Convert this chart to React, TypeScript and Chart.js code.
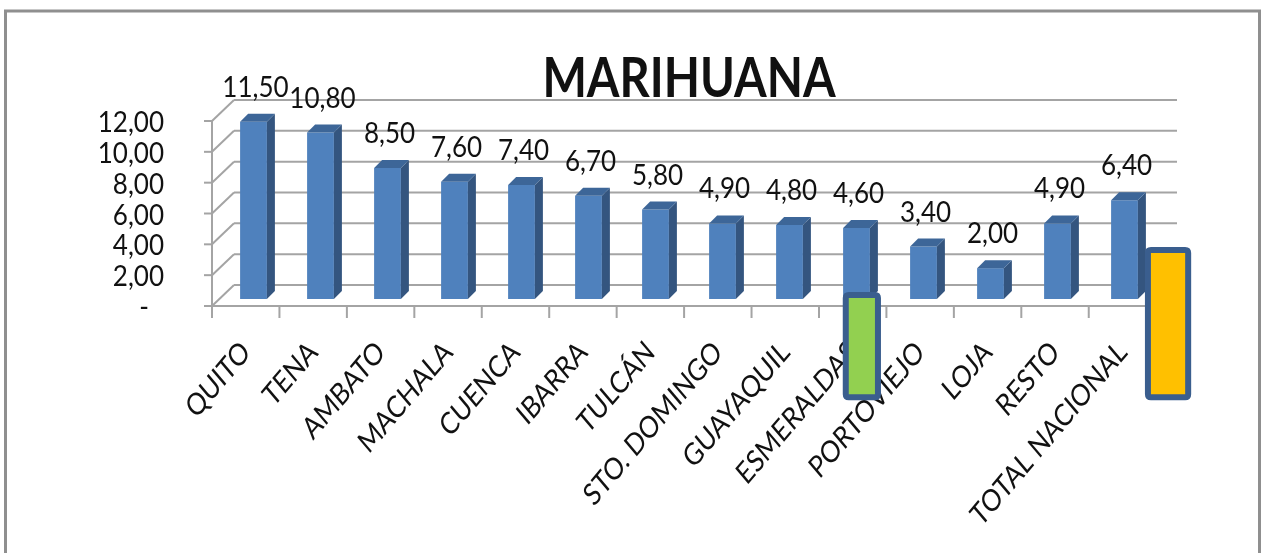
import React, { useEffect, useRef } from 'react';
import { Chart, registerables } from 'chart.js';

Chart.register(...registerables);

// ---------- data ----------
const categories = [
  'QUITO', 'TENA', 'AMBATO', 'MACHALA', 'CUENCA', 'IBARRA', 'TULCÁN',
  'STO. DOMINGO', 'GUAYAQUIL', 'ESMERALDAS', 'PORTOVIEJO', 'LOJA', 'RESTO', 'TOTAL NACIONAL',
];
const values = [11.5, 10.8, 8.5, 7.6, 7.4, 6.7, 5.8, 4.9, 4.8, 4.6, 3.4, 2.0, 4.9, 6.4];
const valueLabels = ['11,50', '10,80', '8,50', '7,60', '7,40', '6,70', '5,80', '4,90', '4,80', '4,60', '3,40', '2,00', '4,90', '6,40'];
const yTickValues = [0, 2, 4, 6, 8, 10, 12];
const yTickLabels = ['-', '2,00', '4,00', '6,00', '8,00', '10,00', '12,00'];
const chartTitle = 'MARIHUANA';

// highlight boxes (annotation overlays), expressed in scale units
const highlightCategories = [9, 13];
const highlightTopValues = [0.45, 3.38];
const highlightBottomValues = [-6.56, -6.56];

// ---------- styles / geometry ----------
const FONT = 'Lato, "Open Sans", sans-serif';
const FRONT = { dx: -8, dy: 7, sx: 1.0066 };
const BACK = { dx: 14, dy: -14 };
const BAR_DEPTH = 8;
const TEXT_SIZE = 28;
const TEXT_SX = 0.93;
const CAT_SIZE = 26;
const CAT_SX = 0.95;
const CAT_STRETCH_Y = 1.18;
const TITLE_SIZE = 55;
const TITLE_SX = 0.855;
const highlightStyle = [
  { offset: 0.08, widthFrac: 0.57, fill: '#92D050' },
  { offset: 0.65, widthFrac: 0.69, fill: '#FFC000' },
];

function line(ctx: CanvasRenderingContext2D, x1: number, y1: number, x2: number, y2: number) {
  ctx.beginPath();
  ctx.moveTo(x1, y1);
  ctx.lineTo(x2, y2);
  ctx.stroke();
}

function text(
  ctx: CanvasRenderingContext2D, s: string, x: number, y: number,
  align: CanvasTextAlign, baseline: CanvasTextBaseline, sx: number, angle = 0, sy = 1,
) {
  ctx.save();
  ctx.translate(x, y);
  if (sy !== 1) ctx.scale(1, sy);
  if (angle) ctx.rotate(angle);
  ctx.scale(sx, 1);
  ctx.textAlign = align;
  ctx.textBaseline = baseline;
  ctx.fillText(s, 0, 0);
  ctx.restore();
}

function roundRect(ctx: CanvasRenderingContext2D, x: number, y: number, w: number, h: number, r: number) {
  ctx.beginPath();
  ctx.moveTo(x + r, y);
  ctx.lineTo(x + w - r, y);
  ctx.quadraticCurveTo(x + w, y, x + w, y + r);
  ctx.lineTo(x + w, y + h - r);
  ctx.quadraticCurveTo(x + w, y + h, x + w - r, y + h);
  ctx.lineTo(x + r, y + h);
  ctx.quadraticCurveTo(x, y + h, x, y + h - r);
  ctx.lineTo(x, y + r);
  ctx.quadraticCurveTo(x, y, x + r, y);
  ctx.closePath();
}

// map a bar-plane x pixel to the front plane
function frontX(a: any, px: number) {
  return a.left + FRONT.dx + (px - a.left) * FRONT.sx;
}

const depthPlugin = {
  id: 'depth3d',
  beforeDatasetsDraw(chart: any) {
    const { ctx, chartArea: a, scales } = chart;
    const x = scales.x;
    const y = scales.y;
    ctx.save();
    // outer frame
    ctx.strokeStyle = '#8f8f8f';
    ctx.lineWidth = 3;
    ctx.strokeRect(5.5, 11, chart.width - 13, chart.height + 20);

    ctx.strokeStyle = '#a4a4a4';
    ctx.lineWidth = 2;
    const y0 = y.getPixelForValue(0);
    const yMax = y.getPixelForValue(yTickValues[yTickValues.length - 1]);
    const fl = frontX(a, a.left);
    const fr = frontX(a, a.right);
    for (const v of yTickValues) {
      const py = y.getPixelForValue(v);
      // back wall
      line(ctx, a.left + BACK.dx, py + BACK.dy, a.right + BACK.dx + 5, py + BACK.dy);
      // left wall
      line(ctx, fl, py + FRONT.dy, a.left + BACK.dx, py + BACK.dy);
      // front tick marks
      line(ctx, fl - 8, py + FRONT.dy, fl, py + FRONT.dy);
    }
    // front vertical axis
    line(ctx, fl, y0 + FRONT.dy, fl, yMax + FRONT.dy);
    // front horizontal axis
    line(ctx, fl, y0 + FRONT.dy, fr, y0 + FRONT.dy);
    // category ticks
    for (let i = 0; i <= categories.length; i++) {
      const px = frontX(a, x.getPixelForValue(i - 0.5));
      line(ctx, px, y0 + FRONT.dy, px, y0 + FRONT.dy + 12);
    }
    ctx.restore();
  },
  afterDatasetsDraw(chart: any) {
    const { ctx } = chart;
    const meta = chart.getDatasetMeta(0);
    ctx.save();
    meta.data.forEach((el: any) => {
      const p = el.getProps(['x', 'y', 'base', 'width'], true);
      const l = p.x - p.width / 2;
      const r = p.x + p.width / 2;
      const d = BAR_DEPTH;
      // side face
      ctx.fillStyle = '#34557f';
      ctx.beginPath();
      ctx.moveTo(r, p.y);
      ctx.lineTo(r + d, p.y - d);
      ctx.lineTo(r + d, p.base - d);
      ctx.lineTo(r, p.base);
      ctx.closePath();
      ctx.fill();
      // top face
      ctx.fillStyle = '#3d6698';
      ctx.beginPath();
      ctx.moveTo(l, p.y);
      ctx.lineTo(l + d, p.y - d);
      ctx.lineTo(r + d, p.y - d);
      ctx.lineTo(r, p.y);
      ctx.closePath();
      ctx.fill();
    });
    ctx.restore();
  },
  afterDraw(chart: any) {
    const { ctx, chartArea: a, scales } = chart;
    const x = scales.x;
    const y = scales.y;
    const meta = chart.getDatasetMeta(0);
    ctx.save();
    ctx.fillStyle = '#111';

    // title
    ctx.font = `bold ${TITLE_SIZE}px ${FONT}`;
    text(ctx, chartTitle, (a.left + a.right) / 2, a.top - 17, 'center', 'alphabetic', TITLE_SX);

    // value labels
    ctx.font = `${TEXT_SIZE}px ${FONT}`;
    meta.data.forEach((el: any, i: number) => {
      const p = el.getProps(['x', 'y'], true);
      text(ctx, valueLabels[i], p.x + 2, p.y - 25, 'center', 'alphabetic', TEXT_SX);
    });

    // y tick labels
    const fl = frontX(a, a.left);
    yTickValues.forEach((v, i) => {
      const py = y.getPixelForValue(v) + FRONT.dy;
      const lbl = yTickLabels[i];
      const rx = fl - 48 - (lbl === '-' ? 15 : 0);
      text(ctx, lbl, rx, py + 2, 'right', 'middle', TEXT_SX);
    });

    // category labels
    ctx.font = `${CAT_SIZE}px ${FONT}`;
    const y0 = y.getPixelForValue(0) + FRONT.dy;
    categories.forEach((c, i) => {
      const px = frontX(a, x.getPixelForValue(i));
      text(ctx, c, px, y0 + 41, 'right', 'middle', CAT_SX, -Math.PI / 4, CAT_STRETCH_Y);
    });

    // highlight boxes
    const step = x.getPixelForValue(1) - x.getPixelForValue(0);
    highlightCategories.forEach((cat, i) => {
      const st = highlightStyle[i];
      const cx = x.getPixelForValue(cat + st.offset);
      const w = st.widthFrac * step;
      const top = y.getPixelForValue(highlightTopValues[i]);
      const bottom = y.getPixelForValue(highlightBottomValues[i]);
      const lw = 6;
      roundRect(ctx, cx - w / 2 + lw / 2, top + lw / 2, w - lw, bottom - top - lw, 3);
      ctx.fillStyle = st.fill;
      ctx.fill();
      ctx.lineWidth = lw;
      ctx.strokeStyle = '#3a5e8e';
      ctx.stroke();
    });
    ctx.restore();
  },
};

export default function App() {
  const canvasRef = useRef<HTMLCanvasElement | null>(null);

  useEffect(() => {
    const canvas = canvasRef.current;
    if (!canvas) return;
    const chart = new Chart(canvas, {
      type: 'bar',
      data: {
        labels: categories,
        datasets: [
          {
            data: values,
            backgroundColor: '#4f81bd',
            borderWidth: 0,
            barPercentage: 0.4,
            categoryPercentage: 1,
          },
        ],
      },
      options: {
        animation: false,
        responsive: false,
        devicePixelRatio: 1,
        layout: { padding: { left: 220, right: 109, top: 114, bottom: 254 } },
        scales: {
          x: { type: 'category', display: false, offset: true },
          y: { display: false, min: 0, max: 12 },
        },
        plugins: {
          legend: { display: false },
          tooltip: { enabled: false },
          title: { display: false },
        },
      },
      plugins: [depthPlugin],
    });
    return () => chart.destroy();
  }, []);

  return (
    <div style={{ position: 'fixed', left: 0, top: 0, width: 1267, height: 553, background: '#fff', overflow: 'hidden' }}>
      <canvas ref={canvasRef} width={1267} height={553} style={{ display: 'block' }} />
    </div>
  );
}
